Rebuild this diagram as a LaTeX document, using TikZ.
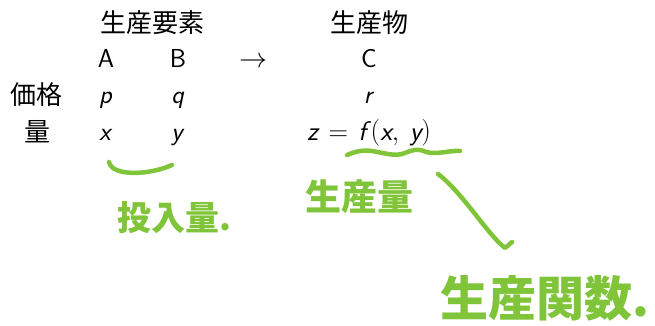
\documentclass[tikz,border=0pt]{standalone}
\usepackage{fix-cm}
\usepackage{fontspec}
\newfontfamily\cjk{Noto Sans CJK JP}
\definecolor{pen}{RGB}{128,196,58}
\newcommand\mi[1]{\textsf{\itshape #1}}
\begin{document}
\begin{tikzpicture}[x=1pt,y=-1pt,
  lab/.style={inner sep=0pt,font=\fontsize{26}{30}\selectfont\sffamily},
  jlab/.style={inner sep=0pt,font=\fontsize{26}{30}\selectfont\cjk},
  hand/.style={inner sep=0pt,text=pen},
  stroke/.style={draw=pen,line width=4.5pt,line cap=round,line join=round}]
\useasboundingbox (0,0) rectangle (655,326);
% headers
\node[jlab] (hin) at (152,23) {生産要素};
\node[jlab] (hout) at (369,23) {生産物};
\node[jlab] (kakaku) at (36,95) {価格};
\node[jlab] (ryo) at (37,132) {量};
% row 1
\node[lab,anchor=base] (A) at (106,68) {A};
\node[lab,anchor=base] (B) at (178,68) {B};
\node[lab,anchor=base,font=\fontsize{28}{30}\selectfont] (arr) at (253,68) {$\rightarrow$};
\node[lab,anchor=base] (C) at (369,68) {C};
% row 2
\node[lab,anchor=base] (p) at (106,103) {\mi{p}};
\node[lab,anchor=base] (q) at (178,103) {\mi{q}};
\node[lab,anchor=base] (r) at (369,103) {\mi{r}};
% row 3
\node[lab,anchor=base] (x) at (106,140) {\mi{x}};
\node[lab,anchor=base] (y) at (178,140) {\mi{y}};
\node[lab,anchor=base,font=\fontsize{27}{30}\selectfont\sffamily] (f) at (369,140)
  {$\mi{z} \mathrel{\mkern2mu=\mkern2mu} \mi{f}\mkern3mu\bigl(\mi{x},\mkern4mu\mi{y}\bigr)$};
% handwritten annotations
\node[hand,font=\fontsize{34}{36}\selectfont\cjk\bfseries] (tonyu) at (174,218) {投入量.};
\node[hand,font=\fontsize{36}{38}\selectfont\cjk\bfseries] (seisan) at (359,197) {生産量};
\node[hand,font=\fontsize{48}{50}\selectfont\cjk\bfseries] (kansu) at (545,298) {生産関数.};
\coordinate (b1) at (109,162);
\coordinate (b2) at (172,165);
\draw[stroke] (b1) .. controls (112,177) and (150,175) .. (b2);
\coordinate (w1) at (347,155);
\coordinate (w2) at (460,151);
\draw[stroke] (w1) .. controls (357,151) and (362,150) .. (372,151)
  .. controls (385,153) and (395,157) .. (405,153)
  .. controls (412,150) and (418,148) .. (426,152)
  .. controls (438,155) and (450,150) .. (w2);
\coordinate (s1) at (438,174);
\coordinate (s2) at (512,242);
\draw[stroke] (s1) .. controls (462,192) and (488,235) .. (505,248) -- (s2);
\end{tikzpicture}
\end{document}
